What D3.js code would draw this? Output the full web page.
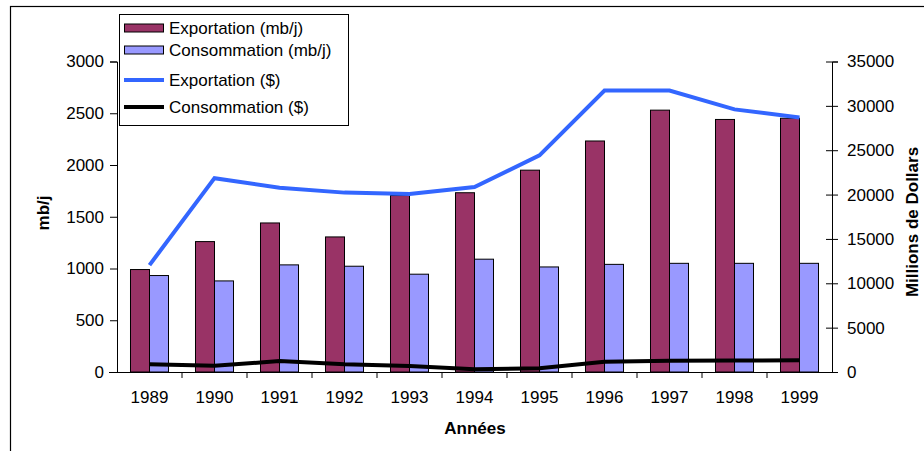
<!DOCTYPE html>
<html>
<head>
<meta charset="utf-8">
<script src="https://cdn.jsdelivr.net/npm/d3@7"></script>
<style>
  body { margin: 0; background: #fff; }
  text { font-family: Arial, "Liberation Sans", sans-serif; }
</style>
</head>
<body>
<div id="viz"></div>
<script>
// export / consumption chart, bars on left axis, $ lines on right axis

const years = ['1989', '1990', '1991', '1992', '1993', '1994', '1995', '1996', '1997', '1998', '1999'];
const exportMbj = [990, 1260, 1440, 1305, 1705, 1732, 1950, 2232, 2530, 2440, 2452];
const consoMbj = [932, 880, 1035, 1022, 945, 1090, 1015, 1040, 1050, 1050, 1050];
const exportUsd = [12050, 21850, 20780, 20220, 20070, 20850, 24420, 31730, 31730, 29600, 28700];
const consoUsd = [860, 700, 1230, 870, 680, 310, 420, 1160, 1270, 1290, 1330];
const leftTicks = [0, 500, 1000, 1500, 2000, 2500, 3000];
const rightTicks = [0, 5000, 10000, 15000, 20000, 25000, 30000, 35000];
const legendItems = [
    { label: 'Exportation (mb/j)', type: 'bar', color: '#993366' },
    { label: 'Consommation (mb/j)', type: 'bar', color: '#9999ff' },
    { label: 'Exportation ($)', type: 'line', color: '#3366ff' },
    { label: 'Consommation ($)', type: 'line', color: '#000000' }
];

function drawChart() {
    const fontSize = 17;
    const dimensions = {
        width: 924,
        height: 451,
        plot: { left: 117, right: 832, top: 61.5, bottom: 372 }
    };

    const svg = d3.select('#viz').append('svg')
        .attr('width', dimensions.width)
        .attr('height', dimensions.height);

    // outer frame
    svg.append('rect')
        .attr('x', 10.5).attr('y', 6.5)
        .attr('width', 930).attr('height', 470)
        .attr('fill', 'none').attr('stroke', '#000').attr('stroke-width', 1.2);

    // scales
    const x0 = d3.scaleBand()
        .domain(years)
        .range([dimensions.plot.left, dimensions.plot.right]);

    const x1 = d3.scaleBand()
        .domain(['exp', 'conso'])
        .range([0, x0.bandwidth()])
        .paddingOuter(0.71);

    const yLeft = d3.scaleLinear()
        .domain([0, 3000])
        .range([dimensions.plot.bottom, dimensions.plot.top]);

    const yRight = d3.scaleLinear()
        .domain([0, 35000])
        .range([dimensions.plot.bottom, dimensions.plot.top]);

    // bars
    const groups = svg.append('g').selectAll('g')
        .data(years)
        .join('g')
        .attr('transform', d => `translate(${x0(d)},0)`);

    groups.append('rect')
        .attr('x', x1('exp'))
        .attr('y', (d, i) => yLeft(exportMbj[i]))
        .attr('width', x1.bandwidth())
        .attr('height', (d, i) => yLeft(0) - yLeft(exportMbj[i]))
        .attr('fill', '#993366')
        .attr('stroke', '#000')
        .attr('stroke-width', 1);

    groups.append('rect')
        .attr('x', x1('conso'))
        .attr('y', (d, i) => yLeft(consoMbj[i]))
        .attr('width', x1.bandwidth())
        .attr('height', (d, i) => yLeft(0) - yLeft(consoMbj[i]))
        .attr('fill', '#9999ff')
        .attr('stroke', '#000')
        .attr('stroke-width', 1);

    // axes
    const leftAxis = svg.append('g')
        .attr('transform', `translate(${dimensions.plot.left},0)`)
        .call(d3.axisLeft(yLeft).tickValues(leftTicks).tickSize(7).tickPadding(6).tickFormat(d3.format('d')));

    const rightAxis = svg.append('g')
        .attr('transform', `translate(${dimensions.plot.right},0)`)
        .call(d3.axisRight(yRight).tickValues(rightTicks).tickSize(6).tickPadding(9).tickFormat(d3.format('d')));
    rightAxis.selectAll('.tick line').attr('x1', -6);

    const bottomAxis = svg.append('g')
        .attr('transform', `translate(0,${dimensions.plot.bottom})`)
        .call(d3.axisBottom(x0).tickSize(0).tickPadding(19));

    // tick marks between categories
    bottomAxis.selectAll('.sep')
        .data(years.slice(1))
        .join('line')
        .attr('class', 'sep')
        .attr('x1', d => x0(d)).attr('x2', d => x0(d))
        .attr('y1', 0).attr('y2', 6)
        .attr('stroke', '#000');

    [leftAxis, rightAxis, bottomAxis].forEach(a => {
        a.select('.domain').attr('stroke', '#000');
        a.selectAll('text').attr('font-size', fontSize).attr('font-family', 'Arial, "Liberation Sans", sans-serif').attr('fill', '#000');
    });
    bottomAxis.select('.domain').attr('d', `M${dimensions.plot.left - 8},0.5H${dimensions.plot.right}`);

    // lines
    const center = d => x0(d) + x0.bandwidth() / 2;

    const lineExp = d3.line()
        .x((d, i) => center(years[i]))
        .y(d => yRight(d));

    svg.append('path')
        .datum(exportUsd)
        .attr('fill', 'none')
        .attr('stroke', '#3366ff')
        .attr('stroke-width', 4)
        .attr('d', lineExp);

    svg.append('path')
        .datum(consoUsd)
        .attr('fill', 'none')
        .attr('stroke', '#000')
        .attr('stroke-width', 4)
        .attr('d', lineExp);

    // axis titles
    svg.append('text')
        .attr('transform', 'translate(49,213) rotate(-90)')
        .attr('text-anchor', 'middle')
        .attr('font-size', fontSize).attr('font-weight', 'bold')
        .text('mb/j');

    svg.append('text')
        .attr('transform', 'translate(918,222) rotate(-90)')
        .attr('text-anchor', 'middle')
        .attr('font-size', fontSize).attr('font-weight', 'bold')
        .text('Millions de Dollars');

    svg.append('text')
        .attr('x', 475).attr('y', 434)
        .attr('text-anchor', 'middle')
        .attr('font-size', fontSize).attr('font-weight', 'bold')
        .text('Années');

    // legend
    const legend = svg.append('g');
    legend.append('rect')
        .attr('x', 119.5).attr('y', 14.5)
        .attr('width', 229).attr('height', 111)
        .attr('fill', '#fff').attr('stroke', '#000');

    const rowY = [28, 50, 80, 107];
    const rows = legend.selectAll('.item')
        .data(legendItems)
        .join('g')
        .attr('class', 'item')
        .attr('transform', (d, i) => `translate(0,${rowY[i]})`);

    rows.filter(d => d.type === 'bar').append('rect')
        .attr('x', 124.5).attr('y', -4)
        .attr('width', 39).attr('height', 8)
        .attr('fill', d => d.color).attr('stroke', '#000');

    rows.filter(d => d.type === 'line').append('line')
        .attr('x1', 124).attr('x2', 164)
        .attr('stroke', d => d.color).attr('stroke-width', 4);

    rows.append('text')
        .attr('x', 169).attr('y', 6)
        .attr('font-size', fontSize)
        .text(d => d.label);
}

drawChart();
</script>
</body>
</html>
